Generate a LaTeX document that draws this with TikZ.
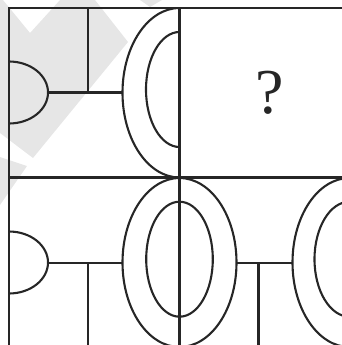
\documentclass[tikz,border=0pt]{standalone}
\usepackage{fontspec}
\setmainfont{Liberation Serif}
\definecolor{inkc}{HTML}{262626}
\definecolor{wmc}{HTML}{E6E6E6}
\begin{document}
\begin{tikzpicture}[x=1pt,y=-1pt,
  ink/.style={draw=inkc,line width=2.1pt},
  framel/.style={draw=inkc,line width=2.4pt},
  wm/.style={fill=wmc,draw=none}]
\useasboundingbox (0,0) rectangle (342,345);
\clip (0,0) rectangle (342,345);
% watermark
\fill[wm] (0,0) -- (3,0) -- (30,33) -- (60,0) -- (95,0) -- (128,42) -- (33,158) -- (0,133) -- cycle;
\fill[wm] (0,157) -- (27,166) -- (0,205) -- cycle;
\fill[wm] (140,0) -- (162,0) -- (150,7) -- cycle;
% top-left cell
\begin{scope}
  \clip (9,8) rectangle (179.5,177.5);
  \draw[ink] (9,92.5) ellipse [x radius=39, y radius=31];
  \draw[ink] (179.5,92.75) ellipse [x radius=57, y radius=84.75];
  \draw[ink] (179.5,89.5) ellipse [x radius=33.5, y radius=57.5];
\end{scope}
\draw[ink] (48,92.5) -- (122.5,92.5);
\draw[ink] (88,8) -- (88,92.5);
% bottom-left cell
\begin{scope}
  \clip (9,177.5) rectangle (179.5,350);
  \draw[ink] (9,262.5) ellipse [x radius=39, y radius=31];
\end{scope}
\draw[ink] (48,262.7) -- (122.5,262.7);
\draw[ink] (88,262.7) -- (88,350);
% bottom-middle full ellipse
\draw[ink] (179.5,262.5) ellipse [x radius=57, y radius=84.5];
\draw[ink] (179.5,259.2) ellipse [x radius=33.3, y radius=57.5];
\draw[ink] (236.5,262.7) -- (292.5,262.7);
\draw[ink] (258.5,262.7) -- (258.5,350);
% bottom-right
\draw[ink] (349.5,262.5) ellipse [x radius=57, y radius=84.5];
\draw[ink] (349.5,259.2) ellipse [x radius=35, y radius=57.5];
% frame
\draw[framel] (350,8) -- (9,8) -- (9,350);
\draw[framel] (9,177.5) -- (350,177.5);
\draw[framel] (179.5,8) -- (179.5,350);
% question mark
\node[text=inkc, inner sep=0pt, font=\fontsize{64}{64}\selectfont] (q) at (270,93) {?};
\end{tikzpicture}
\end{document}
